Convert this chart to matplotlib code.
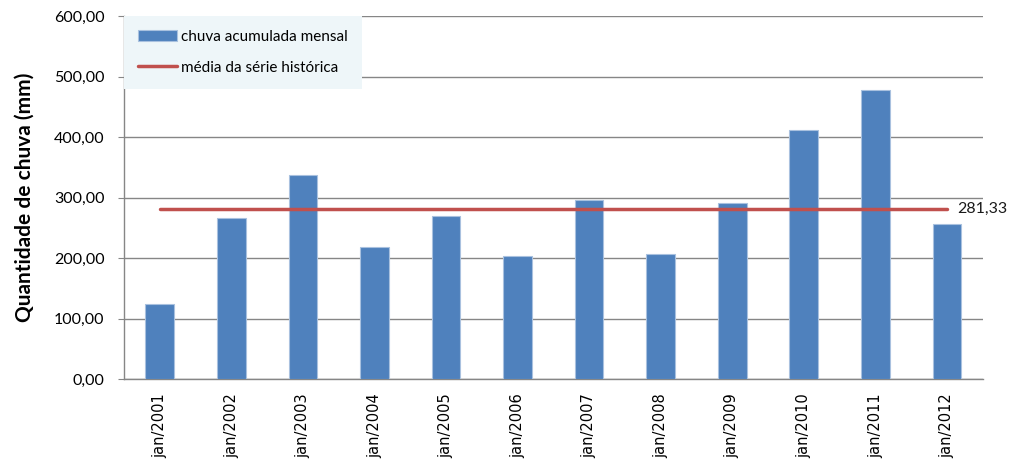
import matplotlib
matplotlib.use("Agg")
import matplotlib.pyplot as plt
import numpy as np

categories = ["jan/2001", "jan/2002", "jan/2003", "jan/2004", "jan/2005", "jan/2006",
              "jan/2007", "jan/2008", "jan/2009", "jan/2010", "jan/2011", "jan/2012"]
chuva = [124, 266, 337, 218, 270, 204, 296, 207, 291, 412, 478, 257]
media = 281.33
yticks = [0, 100, 200, 300, 400, 500, 600]
ytick_labels = ["0,00", "100,00", "200,00", "300,00", "400,00", "500,00", "600,00"]

fig = plt.figure(figsize=(10.12, 4.62), dpi=100)
ax = fig.add_axes([0.1225, 0.179, 0.8485, 0.7864])

x = np.arange(len(categories))
bars = ax.bar(x, chuva, width=0.40, color="#4F81BD", edgecolor="#A9C1DF", linewidth=0.8,
              label="chuva acumulada mensal", zorder=3)
line, = ax.plot(x, [media] * len(x), color="#C0504D", linewidth=2.5, solid_capstyle="round",
                label="média da série histórica", zorder=4)
ax.text(x[-1] + 0.15, media, "281,33", fontsize=11.5, family="Lato", va="center", ha="left",
        color="#1a1a1a")

ax.set_xlim(-0.5, len(categories) - 0.5)
ax.set_ylim(0, 600)
ax.set_yticks(yticks)
ax.set_yticklabels(ytick_labels, fontsize=11.5, family="Lato")
ax.set_xticks(x)
ax.set_xticklabels(categories, rotation=90, fontsize=10.5, family="DejaVu Sans")
ax.tick_params(axis="x", length=0, pad=10)
ax.tick_params(axis="y", length=4, color="#868686", pad=10)
ax.grid(axis="y", color="#868686", linewidth=1, zorder=0)
for s in ["top", "right"]:
    ax.spines[s].set_visible(False)
for s in ["left", "bottom"]:
    ax.spines[s].set_color("#868686")
    ax.spines[s].set_linewidth(1)

ax.set_ylabel("Quantidade de chuva (mm)", fontsize=15, family="Lato", fontweight="bold",
              labelpad=14)

leg = ax.legend([bars, line], ["chuva acumulada mensal", "média da série histórica"],
                loc="upper left", bbox_to_anchor=(0, 1), borderaxespad=0,
                frameon=True, fancybox=False, prop={"family": "Lato", "size": 11},
                handlelength=2.6, handleheight=0.8, handletextpad=0.25, labelspacing=1.1,
                borderpad=0.9)
leg.get_frame().set_facecolor("#EEF6F9")
leg.get_frame().set_edgecolor("none")
leg.get_frame().set_alpha(1)
leg.set_zorder(5)

fig.savefig("out.png", dpi=100)
